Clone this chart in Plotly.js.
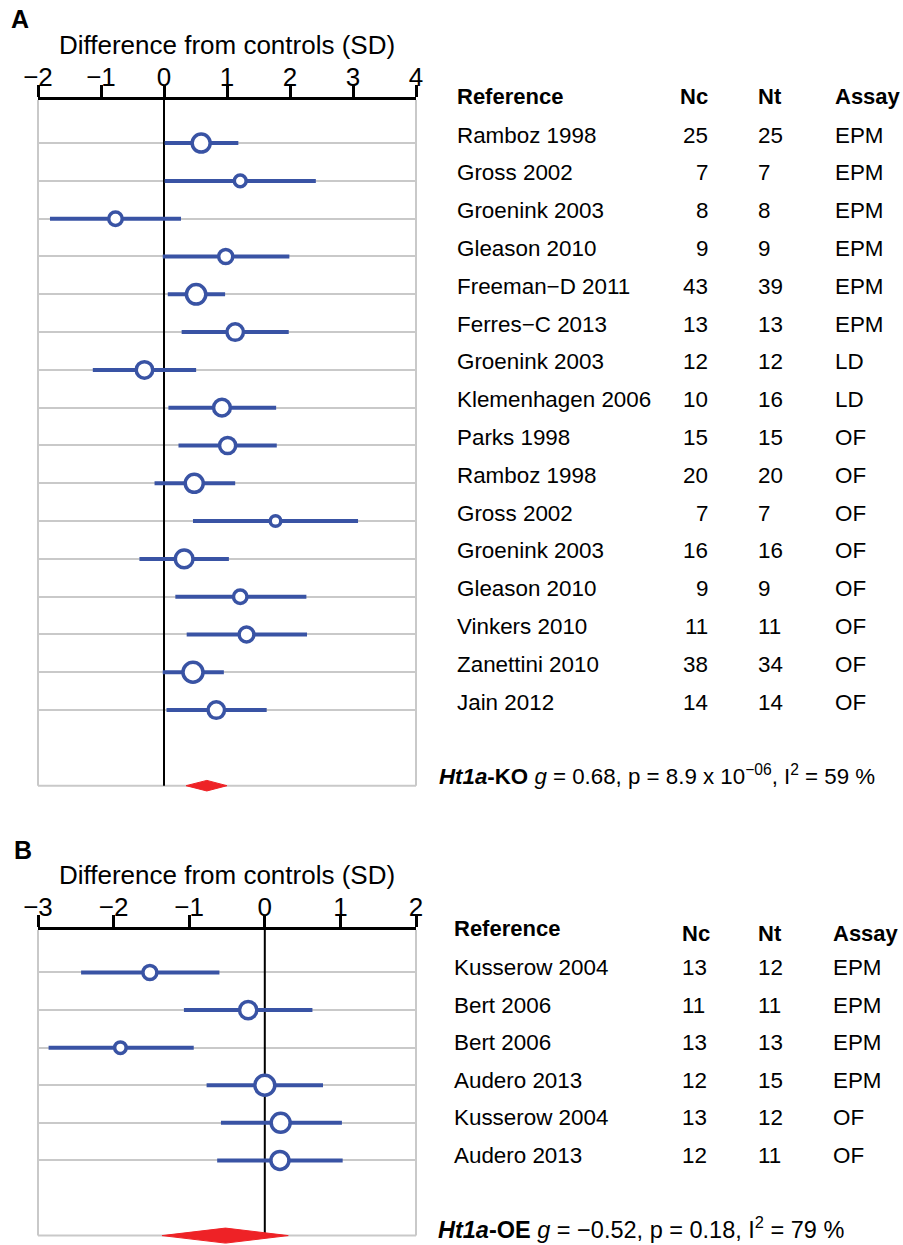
<!DOCTYPE html>
<html>
<head>
<meta charset="utf-8">
<script src="https://cdn.plot.ly/plotly-3.0.1.min.js"></script>
<style>html,body{margin:0;padding:0;background:#fff;}#chart{width:903px;height:1245px;}</style>
</head>
<body>
<div id="chart"></div>
<script>
// ---------- Panel A data (Ht1a-KO) ----------
const studiesA = ["Ramboz 1998","Gross 2002","Groenink 2003","Gleason 2010","Freeman\u2212D 2011","Ferres\u2212C 2013","Groenink 2003","Klemenhagen 2006","Parks 1998","Ramboz 1998","Gross 2002","Groenink 2003","Gleason 2010","Vinkers 2010","Zanettini 2010","Jain 2012"];
const ncA = [25,7,8,9,43,13,12,10,15,20,7,16,9,11,38,14];
const ntA = [25,7,8,9,39,13,12,16,15,20,7,16,9,11,34,14];
const assayA = ["EPM","EPM","EPM","EPM","EPM","EPM","LD","LD","OF","OF","OF","OF","OF","OF","OF","OF"];
const gA  = [0.59,1.21,-0.77,0.98,0.51,1.13,-0.31,0.92,1.01,0.48,1.77,0.32,1.21,1.31,0.46,0.83];
const loA = [0.01,0.01,-1.81,-0.02,0.06,0.28,-1.13,0.07,0.23,-0.15,0.46,-0.39,0.18,0.36,-0.02,0.04];
const hiA = [1.18,2.41,0.27,1.99,0.97,1.98,0.51,1.78,1.79,1.13,3.08,1.03,2.26,2.27,0.95,1.63];
const weightA = [7.9,3.4,4.4,4.8,9.1,6.6,6.6,6.8,6.3,7.9,2.7,7.6,4.4,5.3,9.7,6.6];
const summaryA = {g:0.68, lo:0.35, hi:1.00};

// ---------- Panel B data (Ht1a-OE) ----------
const studiesB = ["Kusserow 2004","Bert 2006","Bert 2006","Audero 2013","Kusserow 2004","Audero 2013"];
const ncB = [13,11,13,12,13,12];
const ntB = [12,11,13,15,12,11];
const assayB = ["EPM","EPM","EPM","EPM","OF","OF"];
const gB  = [-1.52,-0.22,-1.91,0.00,0.21,0.20];
const loB = [-2.43,-1.07,-2.86,-0.77,-0.58,-0.63];
const hiB = [-0.60,0.63,-0.94,0.77,1.02,1.03];
const weightB = [11.4,17.5,7.7,23.4,21.1,18.9];
const summaryB = {g:-0.52, lo:-1.36, hi:0.31};

const ticksA = [-2,-1,0,1,2,3,4];
const ticksB = [-3,-2,-1,0,1,2];

// ---------- styling / layout helpers ----------
const W = 903, H = 1245, PITCH = 37.8;
const FONT = "Liberation Sans, Arial, Helvetica, sans-serif";
const BLUE = "#3953a4", RED = "#ee2226", GRID = "#c9c9c9";
const px = v => v / W;
const py = v => 1 - v / H;

function panel(idx, studies, nc, nt, assay, g, lo, hi, w, summ, xr, ticks, topPx, topVal, diamondH, cols, textShift) {
  const n = studies.length;
  const rows = studies.map((_, i) => i);
  const bottomVal = n + 1.25;
  const xa = idx === 1 ? "x" : "x2", ya = idx === 1 ? "y" : "y2";
  const wmax = Math.max(...w);
  const traces = [];
  traces.push({
    type: "scatter", mode: "lines", xaxis: xa, yaxis: ya,
    x: [summ.lo, summ.g, summ.hi, summ.g, summ.lo],
    y: [n + 1, n + 1 - diamondH, n + 1, n + 1 + diamondH, n + 1],
    fill: "toself", fillcolor: RED, line: {color: RED, width: 1},
    hoverinfo: "skip", showlegend: false
  });
  traces.push({
    type: "scatter", mode: "markers", xaxis: xa, yaxis: ya,
    x: g, y: rows,
    error_x: {type: "data", symmetric: false,
      array: g.map((v, i) => hi[i] - v), arrayminus: g.map((v, i) => v - lo[i]),
      color: BLUE, thickness: 4, width: 0},
    marker: {symbol: "circle", color: "#ffffff", opacity: 1,
      size: w.map(v => 20 * Math.sqrt(v / wmax)),
      line: {color: BLUE, width: 3.5}},
    opacity: 1,
    showlegend: false, cliponaxis: false
  });
  const yTop = topPx;
  const yBot = topPx + (bottomVal - topVal) * PITCH;
  const xaxis = {
    domain: [px(38), px(416)], range: xr, side: "top", anchor: ya,
    tickvals: ticks, ticktext: ticks.map(t => t < 0 ? "\u2212" + Math.abs(t) : String(t)),
    ticks: "outside", ticklen: 12, tickwidth: 3, tickcolor: "#000",
    ticklabelstandoff: -11,
    showline: true, linewidth: 3, linecolor: "#000",
    showgrid: false, zeroline: false,
    tickfont: {family: FONT, size: 26, color: "#000"},
    title: {text: "Difference from controls (SD)", font: {family: FONT, size: 26, color: "#000"}, standoff: 0},
    fixedrange: true
  };
  const yaxis = {
    domain: [py(yBot), py(yTop)], range: [bottomVal, topVal], anchor: xa,
    tickvals: rows, showticklabels: false, ticks: "",
    showgrid: true, gridcolor: GRID, gridwidth: 2,
    zeroline: false, showline: false, fixedrange: true
  };
  const shapes = [
    {type: "line", xref: xa + " domain", yref: ya, x0: 0, x1: 0, y0: topVal, y1: n + 1, line: {color: GRID, width: 2}, layer: "below"},
    {type: "line", xref: xa + " domain", yref: ya, x0: 1, x1: 1, y0: topVal, y1: n + 1, line: {color: GRID, width: 2}, layer: "below"},
    {type: "line", xref: xa + " domain", yref: ya, x0: 0, x1: 1, y0: n + 1, y1: n + 1, line: {color: GRID, width: 2}, layer: "below"},
    {type: "line", xref: xa, yref: ya, x0: 0, x1: 0, y0: topVal, y1: n + 1, line: {color: "#000", width: 2}, layer: "between"}
  ];
  const ann = [];
  const tf = {family: FONT, size: 22.4, color: "#000"};
  rows.forEach(i => {
    ann.push({xref: "paper", yref: ya, x: px(cols.ref), y: i, yshift: textShift, text: studies[i], showarrow: false, xanchor: "left", yanchor: "middle", font: tf});
    ann.push({xref: "paper", yref: ya, x: px(cols.nc), y: i, yshift: textShift, text: String(nc[i]), showarrow: false, xanchor: cols.ncAnchor, yanchor: "middle", font: tf});
    ann.push({xref: "paper", yref: ya, x: px(cols.nt), y: i, yshift: textShift, text: String(nt[i]), showarrow: false, xanchor: "left", yanchor: "middle", font: tf});
    ann.push({xref: "paper", yref: ya, x: px(cols.assay), y: i, yshift: textShift, text: assay[i], showarrow: false, xanchor: "left", yanchor: "middle", font: tf});
  });
  const hf = {family: FONT, size: 22, color: "#000"};
  ann.push({xref: "paper", yref: "paper", x: px(cols.ref), y: py(cols.hdrRefY), text: "<b>Reference</b>", showarrow: false, xanchor: "left", yanchor: "middle", font: hf});
  ann.push({xref: "paper", yref: "paper", x: px(cols.nc), y: py(cols.hdrY), text: "<b>Nc</b>", showarrow: false, xanchor: cols.ncAnchor, yanchor: "middle", font: hf});
  ann.push({xref: "paper", yref: "paper", x: px(cols.nt), y: py(cols.hdrY), text: "<b>Nt</b>", showarrow: false, xanchor: "left", yanchor: "middle", font: hf});
  ann.push({xref: "paper", yref: "paper", x: px(cols.assay), y: py(cols.hdrY), text: "<b>Assay</b>", showarrow: false, xanchor: "left", yanchor: "middle", font: hf});
  return {traces, xaxis, yaxis, shapes, ann};
}

const A = panel(1, studiesA, ncA, ntA, assayA, gA, loA, hiA, weightA, summaryA, [-2, 4], ticksA, 100, -1.14, 0.14,
  {ref: 455, nc: 710, ncAnchor: "right", nt: 756, assay: 833, hdrY: 96, hdrRefY: 96}, 8);
const B = panel(2, studiesB, ncB, ntB, assayB, gB, loB, hiB, weightB, summaryB, [-3, 2], ticksB, 930, -1.13, 0.2,
  {ref: 452, nc: 680, ncAnchor: "left", nt: 756, assay: 831, hdrY: 933, hdrRefY: 928}, 5);

const extra = [
  {xref: "paper", yref: "paper", x: px(9), y: py(19), text: "<b>A</b>", showarrow: false, xanchor: "left", yanchor: "middle", font: {family: FONT, size: 25, color: "#000"}},
  {xref: "paper", yref: "paper", x: px(12), y: py(850), text: "<b>B</b>", showarrow: false, xanchor: "left", yanchor: "middle", font: {family: FONT, size: 25, color: "#000"}},
  {xref: "paper", yref: "paper", x: px(437), y: py(775), showarrow: false, xanchor: "left", yanchor: "middle",
   text: "<b><i>Ht1a</i>-KO</b> <i>g</i> = " + summaryA.g.toFixed(2) + ", p = 8.9 x 10<sup>\u221206</sup>, I<sup>2</sup> = 59 %",
   font: {family: FONT, size: 22.3, color: "#000"}},
  {xref: "paper", yref: "paper", x: px(436), y: py(1228), showarrow: false, xanchor: "left", yanchor: "middle",
   text: "<b><i>Ht1a</i>-OE</b> <i>g</i> = \u2212" + Math.abs(summaryB.g).toFixed(2) + ", p = 0.18, I<sup>2</sup> = 79 %",
   font: {family: FONT, size: 23.5, color: "#000"}}
];

const layout = {
  width: W, height: H, margin: {l: 0, r: 0, t: 0, b: 0},
  paper_bgcolor: "#fff", plot_bgcolor: "#fff",
  font: {family: FONT, color: "#000"},
  showlegend: false,
  xaxis: A.xaxis, yaxis: A.yaxis, xaxis2: B.xaxis, yaxis2: B.yaxis,
  shapes: A.shapes.concat(B.shapes),
  annotations: A.ann.concat(B.ann, extra)
};

Plotly.newPlot("chart", A.traces.concat(B.traces), layout, {staticPlot: true, displayModeBar: false});
</script>
</body>
</html>
